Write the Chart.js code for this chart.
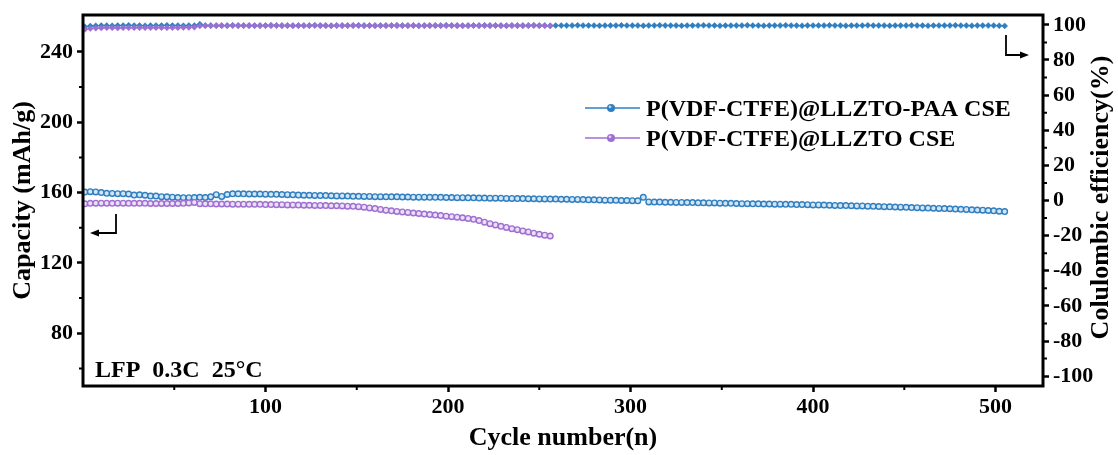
<!DOCTYPE html>
<html><head><meta charset="utf-8">
<script src="https://cdn.jsdelivr.net/npm/chart.js@4/dist/chart.umd.min.js"></script>
<style>html,body{margin:0;padding:0;background:#fff;}canvas{display:block;}</style>
</head><body>
<canvas id="c" width="1118" height="455"></canvas>
<script>
// ---- data ----
const cycles = [1,4,7,10,13,16,19,22,25,28,31,34,37,40,43,46,49,52,55,58,61,64,67,70,73,76,79,82,85,88,91,94,97,100,
103,106,109,112,115,118,121,124,127,130,133,136,139,142,145,148,151,154,157,160,163,166,169,172,175,178,181,184,187,190,193,196,199,
202,205,208,211,214,217,220,223,226,229,232,235,238,241,244,247,250,253,256,259,262,265,268,271,274,277,280,283,286,289,292,295,298,
301,304,307,310,313,316,319,322,325,328,331,334,337,340,343,346,349,352,355,358,361,364,367,370,373,376,379,382,385,388,391,394,397,400,
403,406,409,412,415,418,421,424,427,430,433,436,439,442,445,448,451,454,457,460,463,466,469,472,475,478,481,484,487,490,493,496,499,
502,505];

const capacityPAA = [
160.3,160.5,160.4,160.0,159.6,159.5,159.4,159.4,159.2,158.6,
158.7,158.5,158.0,158.0,157.7,157.6,157.4,157.2,157.1,157.1,
157.2,157.3,157.2,157.6,158.8,157.8,158.9,159.3,159.3,159.3,
159.2,159.2,159.2,159.1,159.0,159.0,158.9,158.8,158.7,158.6,
158.5,158.5,158.4,158.3,158.3,158.2,158.1,158.1,158.0,157.9,
157.9,157.8,157.8,157.7,157.7,157.6,157.6,157.6,157.5,157.5,
157.4,157.4,157.4,157.3,157.3,157.3,157.2,157.2,157.1,157.1,
157.0,157.0,156.9,156.9,156.8,156.8,156.8,156.7,156.7,156.6,
156.6,156.5,156.5,156.4,156.4,156.3,156.3,156.2,156.2,156.1,
156.1,156.0,155.9,155.9,155.8,155.7,155.7,155.6,155.5,155.5,
155.4,155.3,157.3,154.7,154.6,154.6,154.5,154.5,154.4,154.4,
154.3,154.3,154.2,154.2,154.1,154.1,154.0,153.9,153.9,153.8,
153.7,153.7,153.6,153.6,153.5,153.5,153.4,153.4,153.3,153.3,
153.2,153.2,153.1,153.0,153.0,152.9,152.8,152.7,152.6,152.6,
152.5,152.4,152.4,152.3,152.2,152.1,152.0,151.9,151.8,151.7,
151.6,151.5,151.4,151.3,151.2,151.1,151.0,150.9,150.8,150.6,
150.5,150.4,150.2,150.1,150.0,149.8,149.6,149.4,149.2];

const efficiencyPAA = [
98.9,99.3,99.5,99.6,99.6,99.5,99.6,99.6,99.7,99.6,
99.6,99.5,99.6,99.6,99.6,99.7,99.6,99.6,99.5,99.6,
99.6,100.4,99.6,99.6,99.5,99.6,99.6,99.7,99.6,99.6,
99.6,99.5,99.6,99.6,99.7,99.6,99.6,99.6,99.5,99.6,
99.6,99.6,99.7,99.6,99.6,99.5,99.6,99.6,99.6,99.6,
99.7,99.6,99.6,99.5,99.6,99.6,99.6,99.7,99.6,99.6,
99.6,99.5,99.6,99.6,99.6,99.6,99.7,99.6,99.6,99.5,
99.6,99.6,99.6,99.7,99.6,99.6,99.6,99.5,99.6,99.6,
99.6,99.6,99.7,99.6,99.6,99.5,99.6,99.6,99.6,99.6,
99.7,99.6,99.6,99.6,99.5,99.6,99.6,99.6,99.7,99.6,
99.6,99.6,99.5,99.6,99.6,99.7,99.6,99.6,99.6,99.5,
99.6,99.6,99.6,99.7,99.6,99.6,99.5,99.6,99.6,99.6,
99.6,99.7,99.6,99.6,99.5,99.6,99.6,99.6,99.7,99.6,
99.6,99.5,99.6,99.6,99.6,99.6,99.7,99.6,99.6,99.5,
99.6,99.6,99.6,99.7,99.6,99.6,99.6,99.5,99.6,99.6,
99.6,99.7,99.6,99.6,99.5,99.6,99.6,99.6,99.6,99.7,
99.6,99.6,99.5,99.6,99.6,99.6,99.6,99.5,99.4];

const capacityLLZTO = [
153.6,153.9,154.0,154.0,154.0,153.9,154.0,154.0,153.9,153.9,
153.9,153.9,153.8,153.8,153.8,153.8,153.8,153.8,153.9,154.1,
154.4,153.7,153.6,153.6,153.5,153.5,153.5,153.4,153.4,153.4,
153.3,153.3,153.3,153.2,153.2,153.1,153.1,153.0,153.0,152.9,
152.8,152.8,152.7,152.7,152.6,152.5,152.5,152.4,152.3,152.2,
152.0,151.7,151.3,150.9,150.4,150.0,149.6,149.3,149.0,148.7,
148.4,148.1,147.8,147.5,147.2,146.9,146.6,146.3,146.0,145.7,
145.3,144.8,144.1,143.2,142.3,141.6,140.8,140.2,139.5,138.9,
138.2,137.6,136.9,136.3,135.8,135.3];

const efficiencyLLZTO = [
97.4,97.9,98.1,98.2,98.3,98.3,98.2,98.3,98.3,98.4,
98.3,98.4,98.3,98.4,98.4,98.3,98.4,98.4,98.5,98.5,
98.6,99.4,99.5,99.5,99.6,99.5,99.5,99.6,99.5,99.5,
99.5,99.6,99.5,99.5,99.5,99.6,99.5,99.5,99.6,99.5,
99.5,99.5,99.6,99.5,99.5,99.5,99.6,99.5,99.5,99.6,
99.5,99.5,99.5,99.6,99.5,99.5,99.6,99.5,99.5,99.5,
99.6,99.5,99.5,99.5,99.6,99.5,99.5,99.6,99.5,99.5,
99.5,99.6,99.5,99.5,99.5,99.6,99.5,99.5,99.6,99.5,
99.5,99.5,99.6,99.5,99.5,99.4];

const seriesNames = ['P(VDF-CTFE)@LLZTO-PAA CSE', 'P(VDF-CTFE)@LLZTO CSE'];
const xTickValues = [100, 200, 300, 400, 500];
const xMinorValues = [50, 150, 250, 350, 450];
const leftTickValues = [80, 120, 160, 200, 240];
const leftMinorValues = [60, 100, 140, 180, 220];
const rightTickValues = [-100, -80, -60, -40, -20, 0, 20, 40, 60, 80, 100];
const rightMinorValues = [-90, -70, -50, -30, -10, 10, 30, 50, 70, 90];
const xTitle = 'Cycle number(n)';
const leftTitle = 'Capacity (mAh/g)';
const rightTitle = 'Colulombic efficiency(%)';
const noteText = 'LFP  0.3C  25°C';

// ---- styles ----
const BLUE = '#2f7fc0';
const BLUE_LIGHT = '#d3e5f4';
const PURPLE = '#9e6fd0';
const PURPLE_LIGHT = '#eadff7';
const SERIF = "'Liberation Serif', 'Times New Roman', serif";

Chart.defaults.font.family = SERIF;
Chart.defaults.font.weight = 'bold';
Chart.defaults.color = '#000';

function pts(ys) { return ys.map((v, i) => ({x: cycles[i], y: v})); }

function fixAxis(size, isHorizontal) {
  return function (s) {
    if (isHorizontal) s.height = size; else s.width = size;
    s.paddingTop = 0; s.paddingBottom = 0; s.paddingLeft = 0; s.paddingRight = 0;
  };
}

const decor = {
  id: 'decor',
  afterDraw(chart) {
    const {ctx, chartArea: a, scales} = chart;
    const x = scales.x, yL = scales.yL, yR = scales.yR;
    ctx.save();
    // frame
    ctx.strokeStyle = '#000';
    ctx.lineWidth = 3;
    ctx.strokeRect(a.left, a.top, a.right - a.left, a.bottom - a.top);
    // minor ticks
    ctx.lineWidth = 2;
    ctx.beginPath();
    xMinorValues.forEach(v => { const p = x.getPixelForValue(v); ctx.moveTo(p, a.bottom); ctx.lineTo(p, a.bottom + 4); });
    leftMinorValues.forEach(v => { const p = yL.getPixelForValue(v); ctx.moveTo(a.left - 4, p); ctx.lineTo(a.left, p); });
    rightMinorValues.forEach(v => { const p = yR.getPixelForValue(v); ctx.moveTo(a.right, p); ctx.lineTo(a.right + 4, p); });
    ctx.stroke();

    // legend
    const legendItems = [
      {name: seriesNames[0], color: BLUE, y: 108},
      {name: seriesNames[1], color: PURPLE, y: 138}
    ];
    legendItems.forEach(it => {
      ctx.strokeStyle = it.color;
      ctx.lineWidth = 1.5;
      ctx.beginPath(); ctx.moveTo(585, it.y); ctx.lineTo(640, it.y); ctx.stroke();
      ctx.fillStyle = it.color;
      ctx.beginPath(); ctx.arc(611, it.y, 4, 0, Math.PI * 2); ctx.fill();
      ctx.fillStyle = 'rgba(255,255,255,0.7)';
      ctx.beginPath(); ctx.arc(610, it.y - 1.2, 1.4, 0, Math.PI * 2); ctx.fill();
      ctx.fillStyle = '#000';
      ctx.font = 'bold 24px ' + SERIF;
      ctx.textAlign = 'left';
      ctx.textBaseline = 'alphabetic';
      ctx.fillText(it.name, 646, it.y + 8);
    });

    // note
    ctx.fillStyle = '#000';
    ctx.font = 'bold 24px ' + SERIF;
    ctx.textAlign = 'left';
    ctx.textBaseline = 'alphabetic';
    ctx.fillText(noteText, 95, 377);

    // axis arrows
    ctx.strokeStyle = '#000';
    ctx.fillStyle = '#000';
    ctx.lineWidth = 1.8;
    ctx.beginPath(); ctx.moveTo(116, 214); ctx.lineTo(116, 233); ctx.lineTo(97, 233); ctx.stroke();
    ctx.beginPath(); ctx.moveTo(90, 233); ctx.lineTo(99, 229.5); ctx.lineTo(99, 236.5); ctx.closePath(); ctx.fill();
    ctx.beginPath(); ctx.moveTo(1006, 35); ctx.lineTo(1006, 55); ctx.lineTo(1022, 55); ctx.stroke();
    ctx.beginPath(); ctx.moveTo(1029, 55); ctx.lineTo(1020, 51.5); ctx.lineTo(1020, 58.5); ctx.closePath(); ctx.fill();

    // right axis title (reads bottom to top)
    ctx.save();
    ctx.translate(1101, (a.top + a.bottom) / 2 - 3);
    ctx.rotate(-Math.PI / 2);
    ctx.font = 'bold 26px ' + SERIF;
    ctx.textAlign = 'center';
    ctx.textBaseline = 'middle';
    ctx.fillText(rightTitle, 0, 0);
    ctx.restore();
    ctx.restore();
  }
};

new Chart(document.getElementById('c'), {
  type: 'line',
  data: {
    datasets: [
      {label: seriesNames[1] + ' CE', data: pts(efficiencyLLZTO), yAxisID: 'yR', order: 0,
        borderColor: PURPLE, borderWidth: 1, pointStyle: 'rectRot', pointRadius: 3,
        pointBackgroundColor: PURPLE, pointBorderColor: PURPLE, pointBorderWidth: 0.5},
      {label: seriesNames[0] + ' CE', data: pts(efficiencyPAA), yAxisID: 'yR', order: 1,
        borderColor: BLUE, borderWidth: 1, pointStyle: 'rectRot', pointRadius: 3,
        pointBackgroundColor: BLUE, pointBorderColor: BLUE, pointBorderWidth: 0.5},
      {label: seriesNames[1], data: pts(capacityLLZTO), yAxisID: 'yL', order: 2,
        borderColor: PURPLE, borderWidth: 1, pointStyle: 'circle', pointRadius: 2.8,
        pointBackgroundColor: PURPLE_LIGHT, pointBorderColor: PURPLE, pointBorderWidth: 1.4},
      {label: seriesNames[0], data: pts(capacityPAA), yAxisID: 'yL', order: 3,
        borderColor: BLUE, borderWidth: 1, pointStyle: 'circle', pointRadius: 2.8,
        pointBackgroundColor: BLUE_LIGHT, pointBorderColor: BLUE, pointBorderWidth: 1.4}
    ]
  },
  options: {
    responsive: false,
    animation: false,
    devicePixelRatio: 1,
    layout: {padding: {top: 15, left: 0, right: 0, bottom: 0}},
    plugins: {legend: {display: false}, tooltip: {enabled: false}},
    elements: {line: {tension: 0}},
    scales: {
      x: {
        type: 'linear', min: 0, max: 526,
        afterBuildTicks: s => { s.ticks = xTickValues.map(v => ({value: v})); },
        afterFit: fixAxis(69, true),
        ticks: {callback: v => String(v), padding: 2, font: {size: 22, weight: 'bold'}, color: '#000', maxRotation: 0, autoSkip: false},
        grid: {drawOnChartArea: false, tickLength: 6, tickWidth: 2.5, tickColor: '#000'},
        border: {display: false},
        title: {display: true, text: xTitle, font: {size: 26, weight: 'bold'}, color: '#000', padding: {top: 0, bottom: 1}}
      },
      yL: {
        type: 'linear', position: 'left', min: 50, max: 261,
        afterBuildTicks: s => { s.ticks = leftTickValues.map(v => ({value: v})); },
        afterFit: fixAxis(83, false),
        ticks: {callback: v => String(v), padding: 4, font: {size: 22, weight: 'bold'}, color: '#000', autoSkip: false},
        grid: {drawOnChartArea: false, tickLength: 6, tickWidth: 2.5, tickColor: '#000'},
        border: {display: false},
        title: {display: true, text: leftTitle, font: {size: 26, weight: 'bold'}, color: '#000', padding: {top: 8, bottom: 0}}
      },
      yR: {
        type: 'linear', position: 'right', min: -105.6, max: 105.6,
        afterBuildTicks: s => { s.ticks = rightTickValues.map(v => ({value: v})); },
        afterFit: fixAxis(75, false),
        ticks: {callback: v => String(v), padding: 4, font: {size: 22, weight: 'bold'}, color: '#000', autoSkip: false},
        grid: {drawOnChartArea: false, tickLength: 6, tickWidth: 2.5, tickColor: '#000'},
        border: {display: false},
        title: {display: false}
      }
    }
  },
  plugins: [decor]
});
</script>
</body></html>
